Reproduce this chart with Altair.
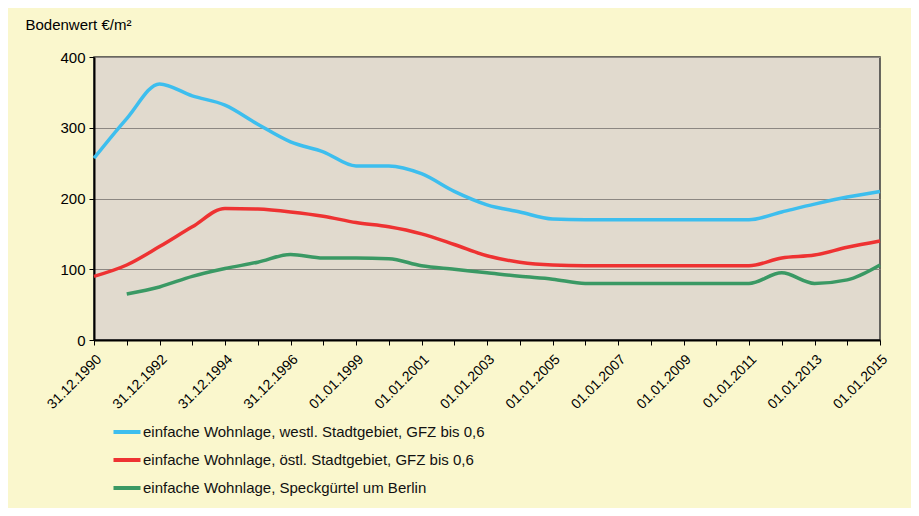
import json
import altair as alt
import pandas as pd

# x positions: one per year, index 0 = 31.12.1990 ... 24 = 01.01.2015
tick_labels = ["31.12.1990", "31.12.1992", "31.12.1994", "31.12.1996", "01.01.1999",
               "01.01.2001", "01.01.2003", "01.01.2005", "01.01.2007", "01.01.2009",
               "01.01.2011", "01.01.2013", "01.01.2015"]

series_names = ["einfache Wohnlage, westl. Stadtgebiet, GFZ bis 0,6",
                "einfache Wohnlage, östl. Stadtgebiet, GFZ bis 0,6",
                "einfache Wohnlage, Speckgürtel um Berlin"]
series_colors = ["#3DBEEE", "#EE3232", "#3A9964"]

west = [257, 313, 362, 345, 332, 305, 280, 266, 246, 246, 235, 210, 191, 181, 171,
        170, 170, 170, 170, 170, 170, 181, 192, 202, 210]
ost = [90, 106, 132, 160, 186, 185, 181, 175, 166, 160, 150, 135, 119, 110, 106,
       105, 105, 105, 105, 105, 105, 116, 120, 131, 140]
speck = [None, 65, 75, 90, 101, 110, 121, 116, 116, 115, 105, 100, 95, 90, 86,
         80, 80, 80, 80, 80, 80, 95, 80, 85, 106]

rows = []
for name, vals in zip(series_names, [west, ost, speck]):
    for i, v in enumerate(vals):
        if v is not None:
            rows.append({"t": i, "wert": v, "serie": name})
df = pd.DataFrame(rows)

label_expr = (f"datum.value % 2 == 0 ? {json.dumps(tick_labels)}[datum.value / 2] : ''")

chart = alt.Chart(df).mark_line(
    interpolate="monotone", strokeWidth=3.5
).encode(
    x=alt.X("t:Q",
            scale=alt.Scale(domain=[0, 24], nice=False, zero=False),
            axis=alt.Axis(values=list(range(25)), labelExpr=label_expr, title=None,
                          grid=False, labelAngle=-45, labelAlign="right",
                          labelBaseline="top", labelFontSize=14, labelPadding=7,
                          tickSize=5, tickColor="black", domainColor="black",
                          domainWidth=2, labelColor="black",
                          labelFont="Liberation Sans", labelOverlap=False)),
    y=alt.Y("wert:Q",
            scale=alt.Scale(domain=[0, 400], nice=False),
            axis=alt.Axis(values=[0, 100, 200, 300, 400], title="Bodenwert €/m²",
                          titleAngle=0, titleX=-69, titleY=-33, titleAlign="left",
                          titleBaseline="middle", titleFontSize=15,
                          titleFontWeight="normal", titleFont="Liberation Sans",
                          titleColor="black",
                          grid=True, gridColor="#8C8782", gridWidth=1,
                          labelFontSize=15, labelColor="black",
                          labelFont="Liberation Sans", labelPadding=4,
                          tickSize=5, tickColor="black", domainColor="black",
                          domainWidth=2)),
    color=alt.Color("serie:N",
                    scale=alt.Scale(domain=series_names, range=series_colors),
                    legend=alt.Legend(title=None, orient="none", legendX=17,
                                      legendY=359, symbolType="stroke",
                                      symbolSize=730, symbolStrokeWidth=4,
                                      labelFontSize=15, labelFont="Liberation Sans",
                                      labelColor="#111", labelOffset=0,
                                      rowPadding=4, padding=0, labelLimit=600)),
).properties(
    width=786, height=283,
    autosize=alt.AutoSizeParams(type="none"),
    padding={"left": 86, "top": 49, "right": 31, "bottom": 168},
    background="#FAF7CD",
).configure_view(
    fill="#E1DACE", stroke="#3A3A3A", strokeWidth=1.5
)

chart.save("out.html", embed_options={"renderer": "svg", "actions": False})
